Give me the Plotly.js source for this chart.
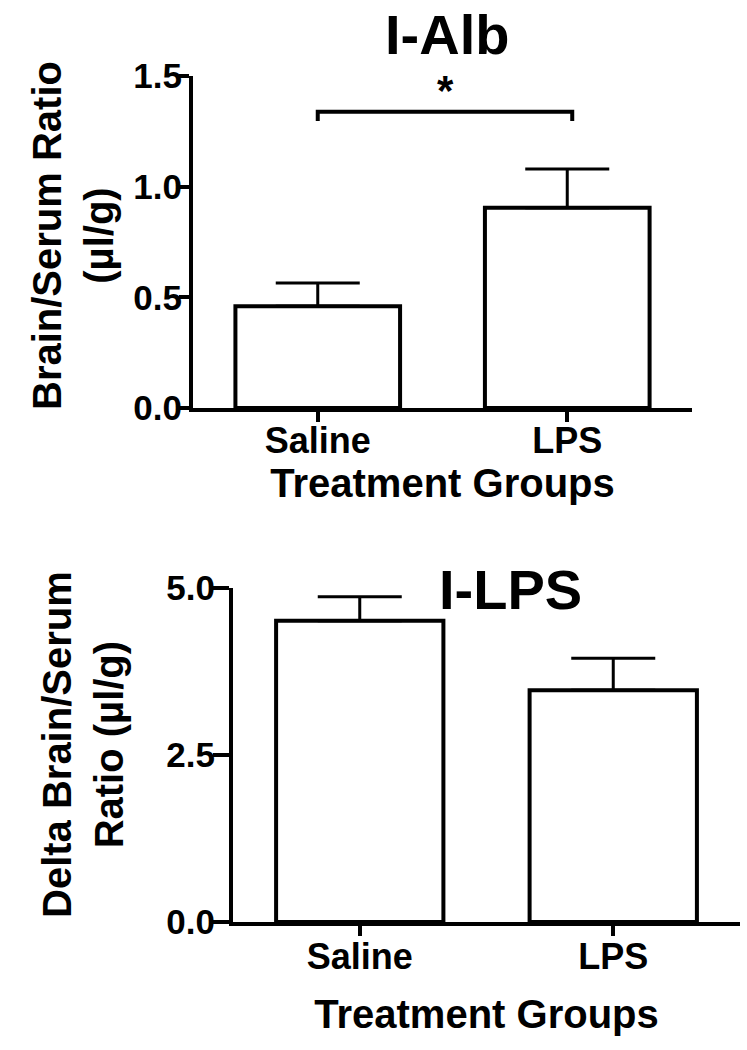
<!DOCTYPE html>
<html>
<head>
<meta charset="utf-8">
<script src="https://cdn.plot.ly/plotly-3.0.1.min.js"></script>
<style>html,body{margin:0;padding:0;background:#fff;}#chart{width:747px;height:1050px;}</style>
</head>
<body>
<div id="chart"></div>
<script>
// ---- data ----
const categories = ["Saline", "LPS"];
const albValues = [0.46, 0.905];
const albErrors = [0.105, 0.175];
const lpsValues = [4.51, 3.47];
const lpsErrors = [0.36, 0.48];
const lowerErrors = [0, 0];
const albTickVals = [0, 0.5, 1.0, 1.5];
const albTickText = ["0.0", "0.5", "1.0", "1.5"];
const lpsTickVals = [0, 2.5, 5.0];
const lpsTickText = ["0.0", "2.5", "5.0"];

const FONT = "Liberation Sans, Arial, Helvetica, sans-serif";
const NARROW = "Liberation Sans Narrow, Arial Narrow, Liberation Sans, Arial, sans-serif";

function barTrace(vals, errs, xa, ya) {
  return {
    type: "bar", x: categories, y: vals, xaxis: xa, yaxis: ya,
    marker: {color: "#ffffff", line: {color: "#000000", width: 4}},
    error_y: {type: "data", symmetric: false, array: errs, arrayminus: lowerErrors,
              color: "#000000", thickness: 3, width: 42},
    hoverinfo: "skip", showlegend: false
  };
}

const data = [
  barTrace(albValues, albErrors, "x", "y"),
  barTrace(lpsValues, lpsErrors, "x2", "y2")
];

function xAxis(domain, anchor, labelShift, standoff) {
  return {
    domain: domain, anchor: anchor, type: "category", range: [-0.5, 1.5],
    showline: true, linewidth: 4, linecolor: "#000",
    ticks: "outside", ticklen: 10, tickwidth: 4, tickcolor: "#000",
    ticklabelstandoff: labelShift,
    tickfont: {family: FONT, size: 36, color: "#000", weight: "bold"},
    showgrid: false, zeroline: false, fixedrange: true,
    title: {text: "Treatment Groups", standoff: standoff,
            font: {family: FONT, size: 40, color: "#000", weight: "bold"}}
  };
}
function yAxis(domain, anchor, range, tv, tt, tlen, labelShift) {
  return {
    domain: domain, anchor: anchor, range: range,
    tickvals: tv, ticktext: tt,
    showline: true, linewidth: 4, linecolor: "#000",
    ticks: "outside", ticklen: tlen, tickwidth: 4, tickcolor: "#000",
    ticklabelstandoff: labelShift,
    tickfont: {family: FONT, size: 35, color: "#000", weight: "bold"},
    showgrid: false, zeroline: false, fixedrange: true
  };
}

const W = 747, H = 1050;
const layout = {
  width: W, height: H,
  margin: {l: 0, r: 0, t: 0, b: 0},
  paper_bgcolor: "#fff", plot_bgcolor: "#fff",
  bargap: 0.34,
  font: {family: FONT, color: "#000"},
  xaxis: xAxis([193 / W, 692 / W], "y", -12, 5),
  yaxis: yAxis([1 - 408 / H, 1 - 76 / H], "x", [0, 1.5], albTickVals, albTickText, 10, -10),
  xaxis2: xAxis([233 / W, 740 / W], "y2", -10, 25),
  yaxis2: yAxis([1 - 922 / H, 1 - 588 / H], "x2", [0, 5], lpsTickVals, lpsTickText, 16, -9),
  shapes: [
    {type: "path", xref: "x", yref: "y",
     path: "M 0,1.297 L 0,1.338 L 1.02,1.338 L 1.02,1.297",
     line: {color: "#000", width: 4}}
  ],
  annotations: [
    {text: "I-Alb", xref: "paper", yref: "paper", x: 447 / W, y: 1 - 34 / H,
     xanchor: "center", yanchor: "middle", showarrow: false,
     font: {family: NARROW, size: 56, color: "#000", weight: "bold"}},
    {text: "I-LPS", xref: "paper", yref: "paper", x: 510 / W, y: 1 - 589 / H,
     xanchor: "center", yanchor: "middle", showarrow: false,
     font: {family: NARROW, size: 56, color: "#000", weight: "bold"}},
    {text: "*", xref: "x", yref: "y", x: 0.51, y: 1.435,
     xanchor: "center", yanchor: "middle", showarrow: false,
     font: {family: FONT, size: 42, color: "#000", weight: "bold"}},
    {text: "Brain/Serum Ratio<br>(µl/g)", xref: "paper", yref: "paper",
     x: 73 / W, y: 1 - 236 / H, textangle: -90,
     xanchor: "center", yanchor: "middle", showarrow: false,
     font: {family: FONT, size: 40, color: "#000", weight: "bold"}},
    {text: "Delta Brain/Serum<br>Ratio (µl/g)", xref: "paper", yref: "paper",
     x: 83 / W, y: 1 - 745 / H, textangle: -90,
     xanchor: "center", yanchor: "middle", showarrow: false,
     font: {family: FONT, size: 40, color: "#000", weight: "bold"}}
  ]
};

Plotly.newPlot("chart", data, layout, {displayModeBar: false, staticPlot: true});
</script>
</body>
</html>
